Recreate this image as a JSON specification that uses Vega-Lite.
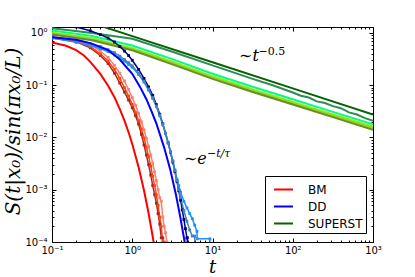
{
 "$schema": "https://vega.github.io/schema/vega-lite/v6.json",
 "width": 321, "height": 215,
 "autosize": {"type": "none"},
 "padding": {"left": 52, "top": 27, "right": 42, "bottom": 35},
 "background": "white",
 "config": {
  "font": "DejaVu Sans",
  "view": {"stroke": "#000", "strokeWidth": 1},
  "axis": {"grid": false, "domain": false, "tickColor": "#000", "labelColor": "#000", "titleColor": "#000", "labelFlush": false, "labelOverlap": false},
  "legend": {"strokeWidth": 1}
 },
 "datasets": {
  "curves": [
   {"curve":"BM","t":0.1,"s":0.66},{"curve":"BM","t":0.15,"s":0.57},{"curve":"BM","t":0.2,"s":0.47},{"curve":"BM","t":0.25,"s":0.37},{"curve":"BM","t":0.3,"s":0.28},{"curve":"BM","t":0.4,"s":0.165},{"curve":"BM","t":0.5,"s":0.098},{"curve":"BM","t":0.6,"s":0.059},{"curve":"BM","t":0.7,"s":0.035},{"curve":"BM","t":0.8,"s":0.021},{"curve":"BM","t":0.9,"s":0.0126},{"curve":"BM","t":1.0,"s":0.0075},{"curve":"BM","t":1.2,"s":0.0027},{"curve":"BM","t":1.4,"s":0.00098},{"curve":"BM","t":1.6,"s":0.00035},{"curve":"BM","t":1.8,"s":0.000126},{"curve":"BM","t":2.0,"s":0.000046},

   {"curve":"BM1","t":0.1,"s":0.80},{"curve":"BM1","t":0.2,"s":0.68},{"curve":"BM1","t":0.3,"s":0.52},{"curve":"BM1","t":0.4,"s":0.37},{"curve":"BM1","t":0.5,"s":0.26},{"curve":"BM1","t":0.6,"s":0.17},{"curve":"BM1","t":0.7,"s":0.11},{"curve":"BM1","t":0.8,"s":0.074},{"curve":"BM1","t":0.9,"s":0.052},{"curve":"BM1","t":1.0,"s":0.037},{"curve":"BM1","t":1.1,"s":0.026},{"curve":"BM1","t":1.2,"s":0.018},{"curve":"BM1","t":1.3,"s":0.0115},{"curve":"BM1","t":1.4,"s":0.0072},{"curve":"BM1","t":1.5,"s":0.0046},{"curve":"BM1","t":1.6,"s":0.003},{"curve":"BM1","t":1.7,"s":0.0019},{"curve":"BM1","t":1.8,"s":0.0012},{"curve":"BM1","t":1.9,"s":0.0008},{"curve":"BM1","t":2.0,"s":0.00055},{"curve":"BM1","t":2.1,"s":0.00035},{"curve":"BM1","t":2.2,"s":0.00022},{"curve":"BM1","t":2.3,"s":0.00012},{"curve":"BM1","t":2.4,"s":0.00012},{"curve":"BM1","t":2.45,"s":0.00001},

   {"curve":"BM2","t":0.1,"s":0.82},{"curve":"BM2","t":0.2,"s":0.70},{"curve":"BM2","t":0.3,"s":0.55},{"curve":"BM2","t":0.4,"s":0.40},{"curve":"BM2","t":0.5,"s":0.29},{"curve":"BM2","t":0.6,"s":0.20},{"curve":"BM2","t":0.7,"s":0.135},{"curve":"BM2","t":0.8,"s":0.09},{"curve":"BM2","t":0.9,"s":0.062},{"curve":"BM2","t":1.0,"s":0.043},{"curve":"BM2","t":1.1,"s":0.030},{"curve":"BM2","t":1.2,"s":0.021},{"curve":"BM2","t":1.3,"s":0.0145},{"curve":"BM2","t":1.4,"s":0.0098},{"curve":"BM2","t":1.5,"s":0.0065},{"curve":"BM2","t":1.6,"s":0.0043},{"curve":"BM2","t":1.7,"s":0.0028},{"curve":"BM2","t":1.8,"s":0.0018},{"curve":"BM2","t":1.9,"s":0.0012},{"curve":"BM2","t":2.0,"s":0.0008},{"curve":"BM2","t":2.1,"s":0.0005},{"curve":"BM2","t":2.2,"s":0.0003},{"curve":"BM2","t":2.3,"s":0.0002},{"curve":"BM2","t":2.4,"s":0.0001},{"curve":"BM2","t":2.5,"s":0.0001},{"curve":"BM2","t":2.55,"s":0.00001},

   {"curve":"BM3","t":0.1,"s":0.85},{"curve":"BM3","t":0.2,"s":0.74},{"curve":"BM3","t":0.3,"s":0.60},{"curve":"BM3","t":0.4,"s":0.45},{"curve":"BM3","t":0.5,"s":0.34},{"curve":"BM3","t":0.6,"s":0.24},{"curve":"BM3","t":0.7,"s":0.17},{"curve":"BM3","t":0.8,"s":0.12},{"curve":"BM3","t":0.9,"s":0.083},{"curve":"BM3","t":1.0,"s":0.058},{"curve":"BM3","t":1.1,"s":0.041},{"curve":"BM3","t":1.2,"s":0.029},{"curve":"BM3","t":1.3,"s":0.020},{"curve":"BM3","t":1.4,"s":0.014},{"curve":"BM3","t":1.5,"s":0.0097},{"curve":"BM3","t":1.6,"s":0.0067},{"curve":"BM3","t":1.7,"s":0.0046},{"curve":"BM3","t":1.8,"s":0.0032},{"curve":"BM3","t":1.9,"s":0.0022},{"curve":"BM3","t":2.0,"s":0.0015},{"curve":"BM3","t":2.1,"s":0.001},{"curve":"BM3","t":2.2,"s":0.0007},{"curve":"BM3","t":2.3,"s":0.0006},{"curve":"BM3","t":2.4,"s":0.0003},{"curve":"BM3","t":2.5,"s":0.0002},{"curve":"BM3","t":2.6,"s":0.00015},{"curve":"BM3","t":2.7,"s":0.0001},{"curve":"BM3","t":2.75,"s":0.00001},

   {"curve":"DD","t":0.1,"s":0.83},{"curve":"DD","t":0.2,"s":0.74},{"curve":"DD","t":0.3,"s":0.64},{"curve":"DD","t":0.5,"s":0.47},{"curve":"DD","t":0.7,"s":0.31},{"curve":"DD","t":1.0,"s":0.165},{"curve":"DD","t":1.25,"s":0.093},{"curve":"DD","t":1.5,"s":0.054},{"curve":"DD","t":1.75,"s":0.031},{"curve":"DD","t":2.0,"s":0.0185},{"curve":"DD","t":2.5,"s":0.0064},{"curve":"DD","t":3.0,"s":0.0023},{"curve":"DD","t":3.5,"s":0.00081},{"curve":"DD","t":4.0,"s":0.00028},{"curve":"DD","t":4.5,"s":0.0001},{"curve":"DD","t":5.0,"s":0.000035},

   {"curve":"DD1","t":0.1,"s":1.5},{"curve":"DD1","t":0.15,"s":1.4},{"curve":"DD1","t":0.2,"s":1.3},{"curve":"DD1","t":0.3,"s":1.1},{"curve":"DD1","t":0.4,"s":0.93},{"curve":"DD1","t":0.5,"s":0.8},{"curve":"DD1","t":0.6,"s":0.67},{"curve":"DD1","t":0.7,"s":0.55},{"curve":"DD1","t":0.8,"s":0.45},{"curve":"DD1","t":0.9,"s":0.37},{"curve":"DD1","t":1.0,"s":0.3},{"curve":"DD1","t":1.2,"s":0.2},{"curve":"DD1","t":1.4,"s":0.135},{"curve":"DD1","t":1.6,"s":0.093},{"curve":"DD1","t":1.8,"s":0.064},{"curve":"DD1","t":2.0,"s":0.0425},{"curve":"DD1","t":2.2,"s":0.0279},{"curve":"DD1","t":2.4,"s":0.0183},{"curve":"DD1","t":2.6,"s":0.012},{"curve":"DD1","t":2.8,"s":0.0079},{"curve":"DD1","t":3.0,"s":0.0052},{"curve":"DD1","t":3.2,"s":0.0034},{"curve":"DD1","t":3.4,"s":0.00223},{"curve":"DD1","t":3.6,"s":0.00146},{"curve":"DD1","t":3.8,"s":0.00096},{"curve":"DD1","t":4.0,"s":0.00063},{"curve":"DD1","t":4.2,"s":0.00041},{"curve":"DD1","t":4.4,"s":0.00027},{"curve":"DD1","t":4.6,"s":0.00018},{"curve":"DD1","t":4.8,"s":0.00012},{"curve":"DD1","t":4.85,"s":0.00012},{"curve":"DD1","t":4.9,"s":0.00001},

   {"curve":"DD2","t":0.1,"s":0.8},{"curve":"DD2","t":0.2,"s":0.66},{"curve":"DD2","t":0.3,"s":0.58},{"curve":"DD2","t":0.4,"s":0.5},{"curve":"DD2","t":0.5,"s":0.44},{"curve":"DD2","t":0.6,"s":0.38},{"curve":"DD2","t":0.7,"s":0.33},{"curve":"DD2","t":0.8,"s":0.29},{"curve":"DD2","t":0.9,"s":0.25},{"curve":"DD2","t":1.0,"s":0.22},{"curve":"DD2","t":1.2,"s":0.16},{"curve":"DD2","t":1.4,"s":0.115},{"curve":"DD2","t":1.6,"s":0.08},{"curve":"DD2","t":1.8,"s":0.056},{"curve":"DD2","t":2.0,"s":0.039},{"curve":"DD2","t":2.2,"s":0.026},{"curve":"DD2","t":2.4,"s":0.0175},{"curve":"DD2","t":2.6,"s":0.0118},{"curve":"DD2","t":2.8,"s":0.008},{"curve":"DD2","t":3.0,"s":0.0054},{"curve":"DD2","t":3.2,"s":0.0036},{"curve":"DD2","t":3.4,"s":0.0024},{"curve":"DD2","t":3.6,"s":0.0016},{"curve":"DD2","t":3.8,"s":0.0012},{"curve":"DD2","t":4.0,"s":0.0009},{"curve":"DD2","t":4.4,"s":0.0006},{"curve":"DD2","t":4.8,"s":0.00045},{"curve":"DD2","t":5.2,"s":0.00035},{"curve":"DD2","t":5.6,"s":0.00028},{"curve":"DD2","t":6.0,"s":0.00021},{"curve":"DD2","t":6.4,"s":0.00016},{"curve":"DD2","t":6.45,"s":0.000115},{"curve":"DD2","t":9.3,"s":0.000115},{"curve":"DD2","t":9.35,"s":0.00001},

   {"curve":"DD3","t":0.1,"s":0.85},{"curve":"DD3","t":0.2,"s":0.72},{"curve":"DD3","t":0.3,"s":0.63},{"curve":"DD3","t":0.4,"s":0.55},{"curve":"DD3","t":0.5,"s":0.48},{"curve":"DD3","t":0.6,"s":0.42},{"curve":"DD3","t":0.7,"s":0.36},{"curve":"DD3","t":0.8,"s":0.31},{"curve":"DD3","t":0.9,"s":0.27},{"curve":"DD3","t":1.0,"s":0.235},{"curve":"DD3","t":1.2,"s":0.17},{"curve":"DD3","t":1.4,"s":0.12},{"curve":"DD3","t":1.6,"s":0.085},{"curve":"DD3","t":1.8,"s":0.058},{"curve":"DD3","t":2.0,"s":0.04},{"curve":"DD3","t":2.2,"s":0.027},{"curve":"DD3","t":2.4,"s":0.018},{"curve":"DD3","t":2.6,"s":0.012},{"curve":"DD3","t":2.8,"s":0.0079},{"curve":"DD3","t":3.0,"s":0.0052},{"curve":"DD3","t":3.2,"s":0.0035},{"curve":"DD3","t":3.4,"s":0.0023},{"curve":"DD3","t":3.6,"s":0.0015},{"curve":"DD3","t":3.8,"s":0.001},{"curve":"DD3","t":4.0,"s":0.0007},{"curve":"DD3","t":4.4,"s":0.0004},{"curve":"DD3","t":4.8,"s":0.00025},{"curve":"DD3","t":5.2,"s":0.00017},{"curve":"DD3","t":5.6,"s":0.00013},{"curve":"DD3","t":6.0,"s":0.00013},{"curve":"DD3","t":6.05,"s":0.00001},

   {"curve":"SUPERST","t":0.1,"s":2.75},{"curve":"SUPERST","t":1,"s":0.87},{"curve":"SUPERST","t":10,"s":0.275},{"curve":"SUPERST","t":100,"s":0.087},{"curve":"SUPERST","t":1000,"s":0.0275},

   {"curve":"S1","t":0.1,"s":1.23},{"curve":"S1","t":0.316,"s":1.0},{"curve":"S1","t":1,"s":0.776},{"curve":"S1","t":3.16,"s":0.437},{"curve":"S1","t":10,"s":0.24},{"curve":"S1","t":31.6,"s":0.132},{"curve":"S1","t":56.2,"s":0.1},{"curve":"S1","t":100,"s":0.0724},{"curve":"S1","t":125.9,"s":0.063},{"curve":"S1","t":158.5,"s":0.0582},{"curve":"S1","t":199.5,"s":0.049},{"curve":"S1","t":251.2,"s":0.0457},{"curve":"S1","t":316,"s":0.0398},{"curve":"S1","t":398,"s":0.0363},{"curve":"S1","t":501,"s":0.0302},{"curve":"S1","t":631,"s":0.0275},{"curve":"S1","t":794,"s":0.0234},{"curve":"S1","t":1000,"s":0.0209},

   {"curve":"S2","t":0.1,"s":1.12},{"curve":"S2","t":0.316,"s":0.871},{"curve":"S2","t":1,"s":0.575},{"curve":"S2","t":3.16,"s":0.316},{"curve":"S2","t":10,"s":0.166},{"curve":"S2","t":31.6,"s":0.0933},{"curve":"S2","t":100,"s":0.0537},{"curve":"S2","t":316,"s":0.0309},{"curve":"S2","t":1000,"s":0.0178},

   {"curve":"S3","t":0.1,"s":1.023},{"curve":"S3","t":0.316,"s":0.794},{"curve":"S3","t":1,"s":0.513},{"curve":"S3","t":3.16,"s":0.282},{"curve":"S3","t":10,"s":0.148},{"curve":"S3","t":31.6,"s":0.0832},{"curve":"S3","t":100,"s":0.0479},{"curve":"S3","t":316,"s":0.0275},{"curve":"S3","t":1000,"s":0.0162},

   {"curve":"S4","t":0.1,"s":0.977},{"curve":"S4","t":0.316,"s":0.759},{"curve":"S4","t":1,"s":0.49},{"curve":"S4","t":3.16,"s":0.266},{"curve":"S4","t":10,"s":0.14},{"curve":"S4","t":31.6,"s":0.0785},{"curve":"S4","t":100,"s":0.0452},{"curve":"S4","t":316,"s":0.026},{"curve":"S4","t":1000,"s":0.0151},

   {"curve":"S5","t":0.1,"s":0.933},{"curve":"S5","t":0.316,"s":0.724},{"curve":"S5","t":1,"s":0.468},{"curve":"S5","t":3.16,"s":0.251},{"curve":"S5","t":10,"s":0.132},{"curve":"S5","t":31.6,"s":0.0741},{"curve":"S5","t":100,"s":0.0427},{"curve":"S5","t":316,"s":0.0245},{"curve":"S5","t":1000,"s":0.0141}
  ],
  "notes": [
   {"label": "∼t", "kind": "main", "t": 21.4, "s": 0.286},
   {"label": "−0.5", "kind": "sup", "t": 37.5, "s": 0.372},
   {"label": "∼e", "kind": "main", "t": 4.41, "s": 0.00312},
   {"label": "−t/τ", "kind": "supi", "t": 8.53, "s": 0.00426}
  ]
 },
 "layer": [
  {
   "data": {"name": "curves"},
   "transform": [{"filter": {"field": "curve", "oneOf": ["S1","S2","S3","S4","S5"]}}],
   "mark": {"type": "line", "strokeWidth": 2, "clip": true},
   "encoding": {
    "x": {"field": "t", "type": "quantitative",
      "scale": {"type": "log", "domain": [0.1, 1000], "nice": false},
      "axis": {"orient": "bottom", "values": [0.1, 1, 10, 100, 1000],
        "labelExpr": "'10' + ['⁻⁴','⁻³','⁻²','⁻¹','⁰','¹','²','³'][round(log(datum.value)/LN10)+4]",
        "tickSize": -4, "labelPadding": 7, "labelFontSize": 10,
        "title": "t", "titleFont": "DejaVu Serif", "titleFontStyle": "italic", "titleFontWeight": "normal", "titleFontSize": 18,
        "titleX": 160, "titleY": 30, "titleBaseline": "alphabetic"}},
    "y": {"field": "s", "type": "quantitative",
      "scale": {"type": "log", "domain": [0.0001, 1.3], "nice": false},
      "axis": {"orient": "left", "values": [0.0001, 0.001, 0.01, 0.1, 1],
        "labelExpr": "'10' + ['⁻⁴','⁻³','⁻²','⁻¹','⁰','¹','²','³'][round(log(datum.value)/LN10)+4]",
        "tickSize": -4, "labelPadding": 9, "labelFontSize": 10,
        "title": "S(t|x₀)/sin(πx₀/L)", "titleFont": "DejaVu Serif", "titleFontStyle": "italic", "titleFontWeight": "normal", "titleFontSize": 20,
        "titleX": -33, "titleY": 104, "titleBaseline": "alphabetic", "titleAlign": "center"}},
    "color": {"field": "curve", "type": "nominal",
      "scale": {"domain": ["BM","BM1","BM2","BM3","DD","DD1","DD2","DD3","SUPERST","S1","S2","S3","S4","S5"],
        "range": ["#ff0000","#b22222","#ff4500","#fa8072","#0000ff","#000080","#1e90ff","#4682b4","#006400","#2e8b57","#00ff7f","#7cfc00","#9acd32","#6b8e23"]},
      "legend": {"values": ["BM","DD","SUPERST"], "orient": "none", "legendX": 213, "legendY": 149, "title": null,
        "symbolType": "stroke", "symbolStrokeWidth": 2, "symbolSize": 361, "labelFontSize": 12, "labelColor": "#000",
        "strokeColor": "#000", "fillColor": "#fff", "padding": 3, "rowPadding": -0.5, "symbolOffset": 5, "labelOffset": 14, "cornerRadius": 0}}
   }
  },
  {
   "data": {"name": "curves"},
   "transform": [{"filter": {"field": "curve", "oneOf": ["DD1","DD2","DD3","BM1","BM2","BM3"]}}],
   "mark": {"type": "line", "strokeWidth": 1.5, "clip": true},
   "encoding": {
    "x": {"field": "t", "type": "quantitative", "axis": null},
    "y": {"field": "s", "type": "quantitative", "axis": null},
    "color": {"field": "curve", "type": "nominal",
      "legend": {"values": ["BM","DD","SUPERST"], "orient": "none", "legendX": 213, "legendY": 149, "title": null,
        "symbolType": "stroke", "symbolStrokeWidth": 2, "symbolSize": 361, "labelFontSize": 12, "labelColor": "#000",
        "strokeColor": "#000", "fillColor": "#fff", "padding": 3, "rowPadding": -0.5, "symbolOffset": 5, "labelOffset": 14, "cornerRadius": 0}}
   }
  },
  {
   "data": {"name": "curves"},
   "transform": [{"filter": {"field": "curve", "oneOf": ["DD1","DD2","DD3","BM1","BM2","BM3"]}}],
   "mark": {"type": "point", "shape": "square", "filled": true, "size": 8, "opacity": 1, "clip": true},
   "encoding": {
    "x": {"field": "t", "type": "quantitative", "axis": null},
    "y": {"field": "s", "type": "quantitative", "axis": null},
    "color": {"field": "curve", "type": "nominal",
      "legend": {"values": ["BM","DD","SUPERST"], "orient": "none", "legendX": 213, "legendY": 149, "title": null,
        "symbolType": "stroke", "symbolStrokeWidth": 2, "symbolSize": 361, "labelFontSize": 12, "labelColor": "#000",
        "strokeColor": "#000", "fillColor": "#fff", "padding": 3, "rowPadding": -0.5, "symbolOffset": 5, "labelOffset": 14, "cornerRadius": 0}}
   }
  },
  {
   "data": {"name": "curves"},
   "transform": [{"filter": {"field": "curve", "oneOf": ["SUPERST","DD","BM"]}}],
   "mark": {"type": "line", "strokeWidth": 2, "clip": true},
   "encoding": {
    "x": {"field": "t", "type": "quantitative", "axis": null},
    "y": {"field": "s", "type": "quantitative", "axis": null},
    "color": {"field": "curve", "type": "nominal",
      "legend": {"values": ["BM","DD","SUPERST"], "orient": "none", "legendX": 213, "legendY": 149, "title": null,
        "symbolType": "stroke", "symbolStrokeWidth": 2, "symbolSize": 361, "labelFontSize": 12, "labelColor": "#000",
        "strokeColor": "#000", "fillColor": "#fff", "padding": 3, "rowPadding": -0.5, "symbolOffset": 5, "labelOffset": 14, "cornerRadius": 0}}
   }
  },
  {
   "data": {"name": "curves"},
   "transform": [{"filter": {"field": "curve", "equal": "SUPERST"}}],
   "mark": {"type": "point", "opacity": 0},
   "encoding": {
    "x": {"field": "t", "type": "quantitative",
      "axis": {"orient": "bottom", "values": [0.2,0.3,0.4,0.5,0.6,0.7,0.8,0.9,2,3,4,5,6,7,8,9,20,30,40,50,60,70,80,90,200,300,400,500,600,700,800,900], "tickSize": -2, "labels": false, "title": null}},
    "y": {"field": "s", "type": "quantitative",
      "axis": {"orient": "left", "values": [0.0002,0.0003,0.0004,0.0005,0.0006,0.0007,0.0008,0.0009,0.002,0.003,0.004,0.005,0.006,0.007,0.008,0.009,0.02,0.03,0.04,0.05,0.06,0.07,0.08,0.09,0.2,0.3,0.4,0.5,0.6,0.7,0.8,0.9], "tickSize": -2, "labels": false, "title": null}}
   }
  },
  {
   "data": {"name": "curves"},
   "transform": [{"filter": {"field": "curve", "equal": "SUPERST"}}],
   "mark": {"type": "point", "opacity": 0},
   "encoding": {
    "x": {"field": "t", "type": "quantitative",
      "axis": {"orient": "top", "values": [0.1, 1, 10, 100, 1000], "tickSize": -4, "labels": false, "title": null}},
    "y": {"field": "s", "type": "quantitative",
      "axis": {"orient": "right", "values": [0.0001, 0.001, 0.01, 0.1, 1], "tickSize": -4, "labels": false, "title": null}}
   }
  },
  {
   "data": {"name": "curves"},
   "transform": [{"filter": {"field": "curve", "equal": "SUPERST"}}],
   "mark": {"type": "point", "opacity": 0},
   "encoding": {
    "x": {"field": "t", "type": "quantitative",
      "axis": {"orient": "top", "values": [0.2,0.3,0.4,0.5,0.6,0.7,0.8,0.9,2,3,4,5,6,7,8,9,20,30,40,50,60,70,80,90,200,300,400,500,600,700,800,900], "tickSize": -2, "labels": false, "title": null}},
    "y": {"field": "s", "type": "quantitative",
      "axis": {"orient": "right", "values": [0.0002,0.0003,0.0004,0.0005,0.0006,0.0007,0.0008,0.0009,0.002,0.003,0.004,0.005,0.006,0.007,0.008,0.009,0.02,0.03,0.04,0.05,0.06,0.07,0.08,0.09,0.2,0.3,0.4,0.5,0.6,0.7,0.8,0.9], "tickSize": -2, "labels": false, "title": null}}
   }
  },
  {
   "data": {"name": "notes"},
   "transform": [{"filter": {"field": "kind", "equal": "main"}}],
   "mark": {"type": "text", "font": "DejaVu Serif", "fontStyle": "italic", "fontSize": 16, "align": "left", "baseline": "alphabetic", "color": "#000"},
   "encoding": {
    "x": {"field": "t", "type": "quantitative", "axis": null},
    "y": {"field": "s", "type": "quantitative", "axis": null},
    "text": {"field": "label"}
   }
  },
  {
   "data": {"name": "notes"},
   "transform": [{"filter": {"field": "kind", "equal": "sup"}}],
   "mark": {"type": "text", "font": "DejaVu Serif", "fontSize": 11, "align": "left", "baseline": "alphabetic", "color": "#000"},
   "encoding": {
    "x": {"field": "t", "type": "quantitative", "axis": null},
    "y": {"field": "s", "type": "quantitative", "axis": null},
    "text": {"field": "label"}
   }
  },
  {
   "data": {"name": "notes"},
   "transform": [{"filter": {"field": "kind", "equal": "supi"}}],
   "mark": {"type": "text", "font": "DejaVu Serif", "fontStyle": "italic", "fontSize": 11, "align": "left", "baseline": "alphabetic", "color": "#000"},
   "encoding": {
    "x": {"field": "t", "type": "quantitative", "axis": null},
    "y": {"field": "s", "type": "quantitative", "axis": null},
    "text": {"field": "label"}
   }
  }
 ],
 "resolve": {"axis": {"x": "independent", "y": "independent"}}
}
